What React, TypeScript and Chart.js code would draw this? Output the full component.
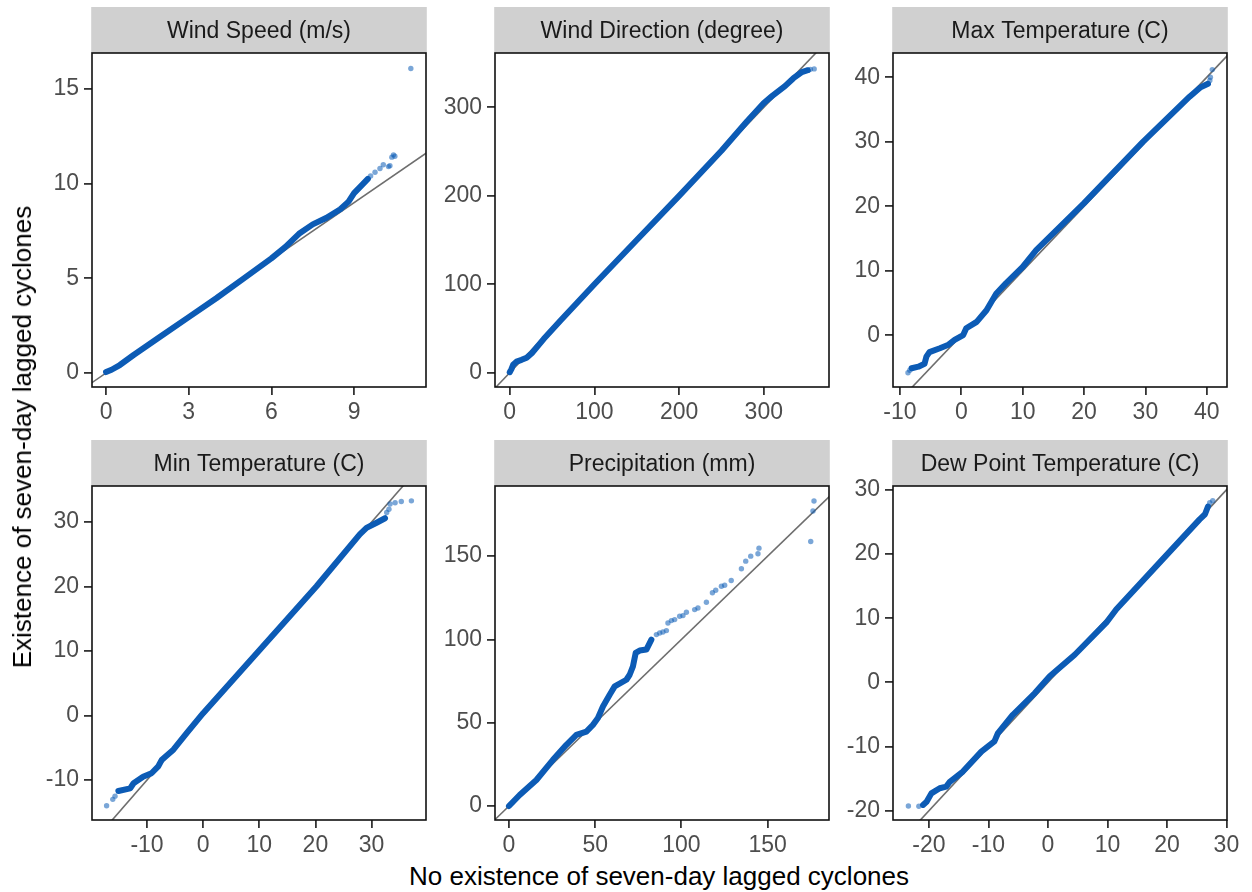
import React, { useEffect, useRef } from "react";
import { Chart, registerables } from "chart.js";

Chart.register(...registerables);

const FONT = "'Liberation Sans', Arial, Helvetica, sans-serif";

// ---------- Panel titles ----------
const panelTitles = [
  "Wind Speed (m/s)",
  "Wind Direction (degree)",
  "Max Temperature (C)",
  "Min Temperature (C)",
  "Precipitation (mm)",
  "Dew Point Temperature (C)",
];
const xAxisTitle = "No existence of seven-day lagged cyclones";
const yAxisTitle = "Existence of seven-day lagged cyclones";

// ---------- Tick labels ----------
const windSpeedXTicks = [0, 3, 6, 9];
const windSpeedYTicks = [0, 5, 10, 15];
const windDirXTicks = [0, 100, 200, 300];
const windDirYTicks = [0, 100, 200, 300];
const maxTempXTicks = [-10, 0, 10, 20, 30, 40];
const maxTempYTicks = [0, 10, 20, 30, 40];
const minTempXTicks = [-10, 0, 10, 20, 30];
const minTempYTicks = [-10, 0, 10, 20, 30];
const precipXTicks = [0, 50, 100, 150];
const precipYTicks = [0, 50, 100, 150];
const dewXTicks = [-20, -10, 0, 10, 20, 30];
const dewYTicks = [-20, -10, 0, 10, 20, 30];

// ---------- Axis ranges [min, max] ----------
const windSpeedXRange = [-0.51, 11.61];
const windSpeedYRange = [-0.74, 16.9];
const windDirXRange = [-17.4, 377];
const windDirYRange = [-16.2, 361.5];
const maxTempXRange = [-11.14, 43.3];
const maxTempYRange = [-8.0, 43.77];
const minTempXRange = [-19.8, 39.7];
const minTempYRange = [-16.2, 35.6];
const precipXRange = [-8.1, 185.6];
const precipYRange = [-8.4, 192.1];
const dewXRange = [-26.05, 30.1];
const dewYRange = [-21.45, 30.6];

// ---------- Quantile data (x = no cyclone, y = cyclone) ----------
// dense part of each QQ curve
const windSpeedDense = [
  [0.0, 0.05], [0.2, 0.17], [0.5, 0.42], [1, 0.95], [2, 1.95], [3, 2.95], [4, 3.95],
  [5, 5.0], [6, 6.05], [6.5, 6.65], [7, 7.35], [7.5, 7.85], [8, 8.2], [8.5, 8.65],
  [8.8, 9.05], [9.0, 9.5], [9.3, 9.95], [9.5, 10.25],
];
const windSpeedSparse = [
  [9.6, 10.4], [9.76, 10.6], [9.94, 10.8], [10.06, 11.0], [10.25, 10.9], [10.3, 10.95],
  [10.37, 11.4], [10.43, 11.52], [10.48, 11.45], [11.06, 16.08],
];

const windDirDense = [
  [0, 0.5], [2, 4], [4, 9], [8, 12.5], [14, 14.5], [20, 17], [26, 22], [40, 38], [60, 59],
  [100, 100], [150, 150], [200, 200], [250, 251], [280, 284], [300, 305], [310, 313],
  [325, 324], [335, 333], [345, 340], [352, 342],
];
const windDirSparse = [[355, 343], [359.5, 343.5]];

const maxTempDense = [
  [-8.1, -5.1], [-7, -4.85], [-6, -4.4], [-5.7, -3.3], [-5.2, -2.6], [-3.5, -2.0],
  [-2.2, -1.5], [-1.1, -0.7], [0.3, 0.05], [0.8, 1.1], [2.5, 2.1], [4.1, 3.9], [5.7, 6.5],
  [7.3, 8.1], [10, 10.6], [12.2, 13.2], [20, 20.5], [29.6, 30], [37.2, 37], [38.9, 38.4],
  [40.2, 39.0],
];
const maxTempSparse = [[-8.7, -5.8], [-8.4, -5.4], [40.5, 39.5], [40.6, 40.0], [40.9, 41.2]];

const minTempDense = [
  [-15.1, -11.7], [-13, -11.3], [-12.4, -10.5], [-10.7, -9.5], [-9.2, -8.95], [-8, -7.9],
  [-7.4, -6.9], [-5.3, -5.3], [-2.9, -2.7], [0, 0.37], [10.1, 10.2], [20.2, 20.05],
  [27.9, 28.1], [29.1, 29.1], [30.9, 29.9], [32.4, 30.6],
];
const minTempSparse = [
  [-17.2, -14.0], [-16.1, -13.0], [-15.7, -12.5], [32.7, 31.5], [33.1, 32.0], [33.3, 32.8],
  [34.2, 33.0], [35.3, 33.2], [37.1, 33.3],
];

const precipDense = [
  [0, 0], [6.2, 6.6], [15.9, 15.6], [25.5, 27.7], [33.3, 36.7], [39.1, 42.7], [44.9, 44.7],
  [48.7, 48.7], [51.6, 52.8], [54.5, 59.7], [58.4, 66.8], [61.3, 71.8], [68.1, 75.8],
  [70, 78.8], [71.9, 83.8], [73.5, 91.9], [75.8, 93.3], [79.7, 93.9], [82.6, 99.9],
];
const precipSparse = [
  [85.5, 102.9], [87.4, 103.9], [89.3, 104.5], [91.3, 105.3], [92.2, 109.9], [94.2, 111.3],
  [96.1, 111.9], [99, 113.9], [100.9, 114.3], [102.9, 116.3], [107.7, 117.9], [109.6, 118.9],
  [114.5, 122.3], [118, 128], [119.9, 129.5], [123.2, 131.9], [125.1, 132.5], [128.9, 135.4],
  [134.8, 142.4], [137.3, 147], [140.2, 150], [144.4, 151.4], [145, 154.8], [175, 158.8],
  [176.3, 177.1], [176.9, 183.1],
];

const dewDense = [
  [-21.0, -19.1], [-20.4, -18.6], [-19.6, -17.3], [-18.2, -16.5], [-17.1, -16.25],
  [-16.5, -15.5], [-14.3, -13.9], [-11.2, -10.8], [-9.0, -9.2], [-8.4, -7.9], [-5.9, -5.05],
  [-2.2, -1.66], [0.3, 0.94], [4.5, 4.3], [9.8, 9.3], [11.5, 11.4], [18.8, 18.7],
  [25.5, 25.4], [26.4, 26.2], [26.9, 27.4],
];
const dewSparse = [[-23.46, -19.27], [-21.7, -19.3], [27.2, 28.0], [27.7, 28.3]];

// ---------- Layout ----------
const colLefts = [92, 495, 893];
const stripTops = [7, 440];
const PLOT_W = 334;
const PLOT_H = 334;
const STRIP_H = 46;
const Y_AXIS_W = 70;
const X_AXIS_H = 40;
const PAD_R = 22;

const panels = [
  { title: panelTitles[0], dense: windSpeedDense, sparse: windSpeedSparse, xTicks: windSpeedXTicks, yTicks: windSpeedYTicks, xRange: windSpeedXRange, yRange: windSpeedYRange },
  { title: panelTitles[1], dense: windDirDense, sparse: windDirSparse, xTicks: windDirXTicks, yTicks: windDirYTicks, xRange: windDirXRange, yRange: windDirYRange },
  { title: panelTitles[2], dense: maxTempDense, sparse: maxTempSparse, xTicks: maxTempXTicks, yTicks: maxTempYTicks, xRange: maxTempXRange, yRange: maxTempYRange },
  { title: panelTitles[3], dense: minTempDense, sparse: minTempSparse, xTicks: minTempXTicks, yTicks: minTempYTicks, xRange: minTempXRange, yRange: minTempYRange },
  { title: panelTitles[4], dense: precipDense, sparse: precipSparse, xTicks: precipXTicks, yTicks: precipYTicks, xRange: precipXRange, yRange: precipYRange },
  { title: panelTitles[5], dense: dewDense, sparse: dewSparse, xTicks: dewXTicks, yTicks: dewYTicks, xRange: dewXRange, yRange: dewYRange },
];

const stripPlugin = {
  id: "strip",
  beforeDraw(chart: any, _args: any, opts: any) {
    const { ctx, chartArea } = chart;
    ctx.save();
    ctx.fillStyle = "#D0D0D0";
    ctx.fillRect(chartArea.left - 0.8, 0, chartArea.right - chartArea.left + 1.6, chartArea.top);
    ctx.fillStyle = "#1A1A1A";
    ctx.font = `23px ${FONT}`;
    ctx.textAlign = "center";
    ctx.textBaseline = "alphabetic";
    ctx.fillText(opts.text, (chartArea.left + chartArea.right) / 2, chartArea.top / 2 + 8.2);
    ctx.restore();
  },
  afterDraw(chart: any) {
    const { ctx, chartArea } = chart;
    ctx.save();
    ctx.strokeStyle = "#111111";
    ctx.lineWidth = 1.6;
    ctx.strokeRect(chartArea.left, chartArea.top, chartArea.right - chartArea.left, chartArea.bottom - chartArea.top);
    ctx.restore();
  },
};

const toXY = (arr: number[][]) => arr.map((p) => ({ x: p[0], y: p[1] }));

function Panel({ p, left, top }: { p: any; left: number; top: number }) {
  const ref = useRef<HTMLCanvasElement>(null);
  useEffect(() => {
    if (!ref.current) return;
    const lo = Math.min(p.xRange[0], p.yRange[0]);
    const hi = Math.max(p.xRange[1], p.yRange[1]);
    const tickCommon = {
      color: "#4D4D4D",
      font: { family: FONT, size: 23 },
      autoSkip: false,
      maxRotation: 0,
    };
    const gridCommon = {
      display: true,
      drawOnChartArea: false,
      drawTicks: true,
      tickLength: 8,
      color: "#333333",
      lineWidth: 1.8,
      tickColor: "#333333",
      tickWidth: 1.8,
    };
    const chart = new Chart(ref.current, {
      type: "scatter",
      data: {
        datasets: [
          {
            type: "scatter",
            data: toXY(p.sparse),
            pointRadius: 2.7,
            pointBackgroundColor: "rgba(12,92,182,0.55)",
            pointBorderWidth: 0,
          } as any,
          {
            type: "line",
            data: toXY(p.dense),
            showLine: true,
            borderColor: "#0C5BB5",
            borderWidth: 6,
            borderCapStyle: "round",
            borderJoinStyle: "round",
            pointRadius: 0,
            tension: 0,
          } as any,
          {
            type: "line",
            data: [{ x: lo, y: lo }, { x: hi, y: hi }],
            borderColor: "#6E6E6E",
            borderWidth: 1.6,
            pointRadius: 0,
          } as any,
        ],
      },
      options: {
        animation: false,
        responsive: false,
        devicePixelRatio: 1,
        layout: { padding: { top: STRIP_H, right: PAD_R, left: 0, bottom: 0 } },
        plugins: {
          legend: { display: false },
          tooltip: { enabled: false },
          strip: { text: p.title },
        } as any,
        scales: {
          x: {
            type: "linear",
            min: p.xRange[0],
            max: p.xRange[1],
            afterBuildTicks: (s: any) => {
              s.ticks = p.xTicks.map((v: number) => ({ value: v }));
            },
            afterFit: (s: any) => {
              s.height = X_AXIS_H;
              s.paddingLeft = 0;
              s.paddingRight = 0;
            },
            grid: gridCommon,
            border: { display: false },
            ticks: { ...tickCommon, padding: 4 },
          },
          y: {
            type: "linear",
            min: p.yRange[0],
            max: p.yRange[1],
            afterBuildTicks: (s: any) => {
              s.ticks = p.yTicks.map((v: number) => ({ value: v }));
            },
            afterFit: (s: any) => {
              s.width = Y_AXIS_W;
              s.paddingTop = 0;
              s.paddingBottom = 0;
            },
            grid: gridCommon,
            border: { display: false },
            ticks: { ...tickCommon, padding: 5 },
          },
        },
      } as any,
      plugins: [stripPlugin as any],
    });
    return () => chart.destroy();
  }, [p]);
  const w = Y_AXIS_W + PLOT_W + PAD_R;
  const h = STRIP_H + PLOT_H + X_AXIS_H;
  return (
    <canvas
      ref={ref}
      width={w}
      height={h}
      style={{ position: "absolute", left: left - Y_AXIS_W, top, width: w, height: h }}
    />
  );
}

export default function App() {
  return (
    <div
      style={{
        position: "absolute",
        left: 0,
        top: 0,
        width: 1252,
        height: 892,
        background: "#FFFFFF",
        overflow: "hidden",
        fontFamily: FONT,
      }}
    >
      {panels.map((p, i) => (
        <Panel key={i} p={p} left={colLefts[i % 3]} top={stripTops[Math.floor(i / 3)]} />
      ))}
      <div
        style={{
          position: "absolute",
          left: 659,
          top: 876,
          transform: "translate(-50%, -50%)",
          whiteSpace: "nowrap",
          fontSize: 26,
          lineHeight: "26px",
          color: "#000000",
        }}
      >
        {xAxisTitle}
      </div>
      <div
        style={{
          position: "absolute",
          left: 22,
          top: 437,
          transform: "translate(-50%, -50%) rotate(-90deg)",
          whiteSpace: "nowrap",
          fontSize: 26,
          lineHeight: "26px",
          color: "#000000",
        }}
      >
        {yAxisTitle}
      </div>
    </div>
  );
}
